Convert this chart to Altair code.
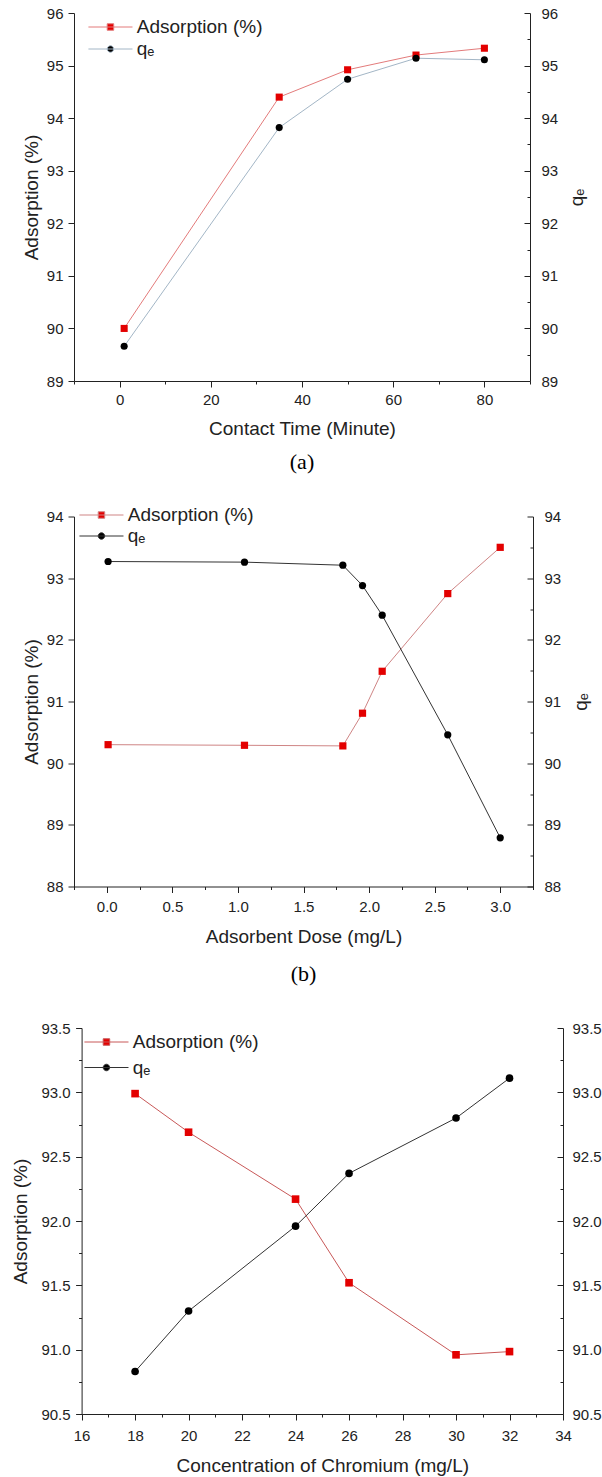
import altair as alt
import pandas as pd

FONT = "Liberation Sans"
SERIF = "Liberation Serif"
INK = "#222222"
ADS = "Adsorption (%)"
QE = "qₑ"

# ---------------- panel (a): contact time ----------------
a_x = [1, 35, 50, 65, 80]
a_ads = [90.00, 94.40, 94.92, 95.20, 95.33]
a_qe = [89.66, 93.82, 94.74, 95.14, 95.11]
a_xticks = [-10, 0, 10, 20, 30, 40, 50, 60, 70, 80, 90]
a_yticks = [89, 89.5, 90, 90.5, 91, 91.5, 92, 92.5, 93, 93.5, 94, 94.5, 95, 95.5, 96]

# ---------------- panel (b): adsorbent dose ----------------
b_x = [0.01, 1.05, 1.80, 1.95, 2.10, 2.60, 3.00]
b_ads = [90.30, 90.29, 90.28, 90.81, 91.49, 92.75, 93.50]
b_qe = [93.27, 93.26, 93.21, 92.88, 92.40, 90.46, 88.79]
b_xticks = [-0.25, 0, 0.25, 0.5, 0.75, 1.0, 1.25, 1.5, 1.75, 2.0, 2.25, 2.5, 2.75, 3.0, 3.25]
b_yticks = [88, 88.5, 89, 89.5, 90, 90.5, 91, 91.5, 92, 92.5, 93, 93.5, 94]

# ---------------- panel (c): chromium concentration ----------------
c_x = [18, 20, 24, 26, 30, 32]
c_ads = [92.99, 92.69, 92.17, 91.52, 90.96, 90.985]
c_qe = [90.83, 91.30, 91.96, 92.37, 92.80, 93.11]
c_xticks = [16, 17, 18, 19, 20, 21, 22, 23, 24, 25, 26, 27, 28, 29, 30, 31, 32, 33, 34]
c_yticks = [90.5, 90.75, 91.0, 91.25, 91.5, 91.75, 92.0, 92.25, 92.5, 92.75, 93.0, 93.25, 93.5]

SQ_PATH = "M-6.8,0H6.8M-1,-1H1V1H-1Z"
CI_PATH = "M-6.8,0H6.8M1,0A1,1,0,1,1,-1,0A1,1,0,1,1,1,0Z"


def major(step):
    return f"abs(datum.value / {step} - round(datum.value / {step})) < 0.000001"


def tick_len(step, big, small):
    return {"condition": {"test": major(step), "value": big}, "value": small}


def panel(xs, ads, qe, xdom, xticks, xstep, xfmt, xtitle, ydom, yticks, ystep, yfmt,
          width, height, x0, ads_line_color, qe_line_color, msize, qe_title,
          lx, ly, rowpad, caption, cap_offset, cap_pad, xlp, xtp, ylp, ytp, rlp, rtp):
    df_a = pd.DataFrame({"x": xs, "y": ads, "series": [ADS] * len(xs)})
    df_q = pd.DataFrame({"x": xs, "y": qe, "series": [QE] * len(xs)})

    x_axis = alt.Axis(values=xticks, format=xfmt,
                      labelExpr=f"{major(xstep)} ? datum.label : ''",
                      tickSize=tick_len(xstep, 6, 3), title=xtitle,
                      labelPadding=xlp, titlePadding=xtp, grid=False,
                      labelFlush=False, labelOverlap=False)
    x_enc = alt.X("x:Q", scale=alt.Scale(domain=xdom, nice=False, zero=False, range=[x0, width]),
                  axis=x_axis)

    ysc = alt.Scale(domain=ydom, nice=False, zero=False)
    left_axis = alt.Axis(orient="left", values=yticks, format=yfmt,
                         labelExpr=f"{major(ystep)} ? datum.label : ''",
                         tickSize=tick_len(ystep, 6, 3), title=ADS, offset=-x0,
                         labelPadding=ylp, titlePadding=ytp, grid=False,
                         labelFlush=False, labelOverlap=False)
    right_kw = dict(orient="right", values=yticks, format=yfmt,
                    labelExpr=f"{major(ystep)} ? datum.label : ''",
                    ticks=False, tickSize=0, labelPadding=rlp, grid=False,
                    labelFlush=False, labelOverlap=False)
    if qe_title:
        right_axis = alt.Axis(title=qe_title, titlePadding=rtp, titleAngle=270, **right_kw)
    else:
        right_axis = alt.Axis(title=None, **right_kw)
    inward_axis = alt.Axis(orient="left", offset=-width, values=yticks, labels=False,
                           domain=False, title=None, grid=False,
                           tickSize=tick_len(ystep, 6, 3))

    is_ads = f"datum.value === '{ADS}'"
    legend = alt.Legend(
        orient="none", legendX=lx, legendY=ly, title=None, padding=0,
        labelFont=FONT, labelFontSize=19, labelColor=INK, symbolSize=42,
        symbolOffset=12.35, labelOffset=16.85, rowPadding=rowpad, symbolStrokeWidth=1,
        symbolType={"expr": f"{is_ads} ? '{SQ_PATH}' : '{CI_PATH}'"},
        symbolStrokeColor={"expr": f"{is_ads} ? '{ads_line_color}' : '{qe_line_color}'"},
    )
    fill_enc = alt.Fill("series:N", scale=alt.Scale(domain=[ADS, QE], range=["#e30000", "#000000"]),
                        legend=legend)

    ads_line = alt.Chart(df_a).mark_line(color=ads_line_color, strokeWidth=1).encode(
        x=x_enc, y=alt.Y("y:Q", scale=ysc, axis=left_axis))
    qe_line = alt.Chart(df_q).mark_line(color=qe_line_color, strokeWidth=1).encode(
        x=x_enc, y=alt.Y("y:Q", scale=ysc, axis=right_axis))
    ads_pts = alt.Chart(df_a).mark_point(filled=True, shape="square", size=msize, opacity=1).encode(
        x=x_enc, y=alt.Y("y:Q", scale=ysc, axis=None), fill=fill_enc)
    qe_pts = alt.Chart(df_q).mark_point(filled=True, shape="circle", size=msize, opacity=1).encode(
        x=x_enc, y=alt.Y("y:Q", scale=ysc, axis=None), fill=fill_enc)
    tick_layer = alt.Chart(df_q).mark_point(opacity=0).encode(
        x=x_enc, y=alt.Y("y:Q", scale=ysc, axis=inward_axis))

    props = dict(width=width, height=height)
    if caption:
        props["title"] = alt.TitleParams(text=caption, orient="bottom", font=SERIF, fontSize=22,
                                         fontWeight="normal", color="#000000", offset=cap_offset,
                                         anchor="middle", frame="group", subtitle=" ",
                                         subtitleFontSize=cap_pad, subtitlePadding=0)
    return alt.layer(ads_line, qe_line, ads_pts, qe_pts, tick_layer).resolve_scale(
        y="independent").properties(**props)


pa = panel(a_x, a_ads, a_qe, [-10, 90], a_xticks, 20, "d", "Contact Time (Minute)",
           [89, 96], a_yticks, 1, "d", 456, 368, 0, "#e37b7b", "#a3b6c6", 50, QE,
           14.6, 4.5, 2, "(a)", 13, 4, 5.8, 12, 5, 5, 11, 29)
pb = panel(b_x, b_ads, b_qe, [-0.25, 3.25], b_xticks, 0.5, ".1f", "Adsorbent Dose (mg/L)",
           [88, 94], b_yticks, 1, "d", 459, 370, 0, "#cf8585", "#333333", 52, QE,
           5.6, -11, 1, "(b)", 17, 7.5, 7.2, 13, 5, 5, 11, 30)
pc = panel(c_x, c_ads, c_qe, [16, 34], c_xticks, 2, "d", "Concentration of Chromium (mg/L)",
           [90.5, 93.5], c_yticks, 0.5, ".1f", 489, 386, 7.6, "#c85858", "#333333", 58, None,
           10.6, 4.5, 5.5, None, 0, 0, 8.5, 13, 5.5, 10, 9, 12)

chart = alt.vconcat(pa, pb, pc, spacing=27.5).resolve_scale(
    fill="independent"
).resolve_legend(
    fill="independent"
).properties(
    padding={"left": 11, "top": 6, "right": 0, "bottom": 0}
).configure_view(stroke=None).configure_axis(
    labelFont=FONT, titleFont=FONT, labelFontSize=15, titleFontSize=19,
    titleFontWeight="normal", labelColor=INK, titleColor=INK,
    domainColor=INK, tickColor=INK, domainWidth=1, tickWidth=1,
)

chart.save("out.html", embed_options={"renderer": "svg", "actions": False})
